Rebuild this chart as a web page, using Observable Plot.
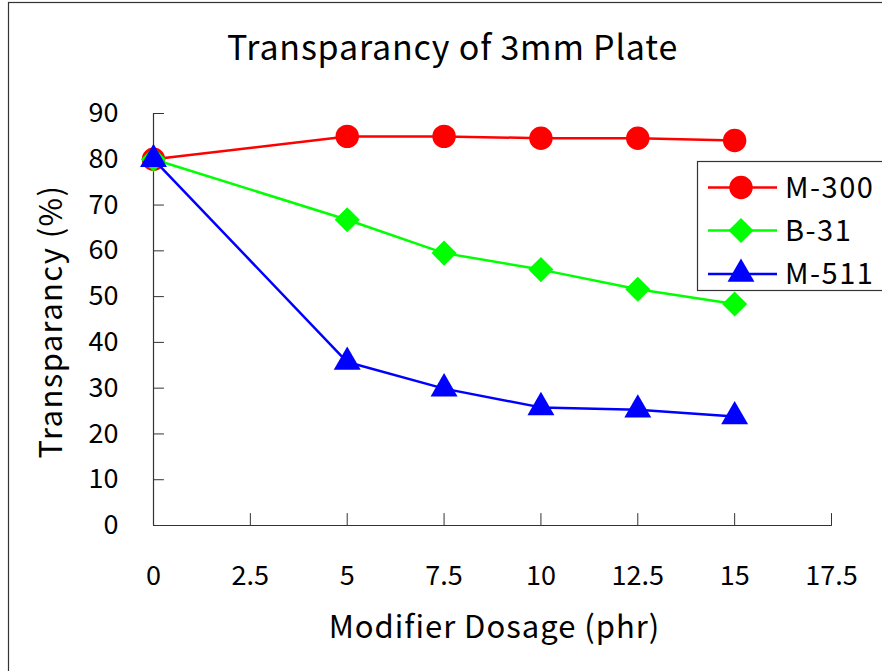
<!DOCTYPE html>
<html><head><meta charset="utf-8">
<script src="https://cdn.jsdelivr.net/npm/d3@7"></script>
<script src="https://cdn.jsdelivr.net/npm/@observablehq/plot@0.6"></script>
<style>body{margin:0;background:#fff}</style>
</head><body><div id="chart"></div>
<script>
const dosage = [0, 5, 7.5, 10, 12.5, 15];
const m300 = [80, 85.0, 85.0, 84.6, 84.6, 84.1];
const b31 = [80, 66.8, 59.5, 55.9, 51.6, 48.4];
const m511 = [80, 35.7, 29.9, 25.8, 25.3, 23.8];
const seriesNames = ["M-300", "B-31", "M-511"];
const seriesColors = ["#ff0000", "#00ff00", "#0000ff"];
const seriesSymbols = ["circle", "diamond2", "triangle"];
const seriesR = [11.7, 11.3, 10];
const xTicks = [0, 2.5, 5, 7.5, 10, 12.5, 15, 17.5];
const yTicks = [0, 10, 20, 30, 40, 50, 60, 70, 80, 90];
const titleText = "Transparancy of 3mm Plate";
const xLabel = "Modifier Dosage (phr)";
const yLabel = "Transparancy (%)";

const seriesValues = [m300, b31, m511];
const rows = seriesValues.map((vals, s) => dosage.map((x, i) => ({x, y: vals[i], s})));

const FONT = "'Noto Sans CJK JP', 'Noto Sans', sans-serif";
const axisColor = "#333";

const tickShape = {draw(ctx, l) { ctx.moveTo(0, 0); ctx.lineTo(0, -l); }};

const seriesMarks = rows.flatMap((data, s) => [
  Plot.line(data, {x: "x", y: "y", stroke: seriesColors[s], strokeWidth: 2.5}),
  Plot.dot(data, {x: "x", y: "y", symbol: seriesSymbols[s], r: seriesR[s], fill: seriesColors[s], stroke: "none"})
]);

const plot = Plot.plot({
  width: 882,
  height: 671,
  marginLeft: 153,
  marginRight: 51,
  marginTop: 113,
  marginBottom: 146,
  style: {fontFamily: FONT, fontSize: "27px", color: "#000", background: "#fff"},
  x: {domain: [0, 17.5]},
  y: {domain: [0, 90]},
  marks: [
    Plot.axisY({ticks: yTicks, tickSize: 0, tickPadding: 35, fontSize: 27, tickFormat: d => String(d), label: null}),
    Plot.axisX({ticks: xTicks, tickSize: 0, tickPadding: 40, fontSize: 27, tickFormat: d => String(d), label: null}),
    Plot.vector(yTicks.filter(d => d > 0), {x: () => 0, y: d => d, length: 10, rotate: 90, anchor: "start", shape: tickShape, stroke: axisColor, strokeWidth: 1}),
    Plot.vector(xTicks.filter(d => d > 0), {x: d => d, y: () => 0, length: 12, rotate: 0, anchor: "start", shape: tickShape, stroke: axisColor, strokeWidth: 1}),
    Plot.ruleX([0], {stroke: axisColor, strokeWidth: 1.2}),
    Plot.ruleY([0], {stroke: axisColor, strokeWidth: 1.2}),
    ...seriesMarks,
    Plot.text([titleText], {frameAnchor: "top", dx: -40, dy: -78, fontSize: 34, fill: "#000", className: "ttl"}),
    Plot.text([xLabel], {frameAnchor: "bottom", dx: 2, dy: 112, fontSize: 31, fill: "#000", className: "xl"}),
    Plot.text([yLabel], {frameAnchor: "left", textAnchor: "middle", lineAnchor: "middle", dx: -101, dy: 2, rotate: -90, fontSize: 31, fill: "#000", className: "yl"})
  ]
});

const svg = d3.select(plot);
svg.selectAll(".ttl text").style("letter-spacing", "0.8px");
svg.selectAll(".xl text").style("letter-spacing", "1px");
svg.selectAll(".yl text").style("letter-spacing", "1.4px");

svg.append("rect").attr("x", 8.5).attr("y", 2.5).attr("width", 900).attr("height", 700)
  .attr("fill", "none").attr("stroke", "#333").attr("stroke-width", 1.2);

const lg = svg.append("g");
lg.append("rect").attr("x", 697.5).attr("y", 161.5).attr("width", 200).attr("height", 129)
  .attr("fill", "#fff").attr("stroke", "#333").attr("stroke-width", 1.2);
const rowY = [187.5, 230.5, 274];
seriesNames.forEach((name, s) => {
  const g = lg.append("g");
  g.append("line").attr("x1", 708).attr("x2", 777).attr("y1", rowY[s]).attr("y2", rowY[s])
    .attr("stroke", seriesColors[s]).attr("stroke-width", 2.5);
  const sym = {circle: d3.symbolCircle, diamond2: d3.symbolDiamond2, triangle: d3.symbolTriangle}[seriesSymbols[s]];
  g.append("path").attr("d", d3.symbol(sym, Math.PI * seriesR[s] * seriesR[s])())
    .attr("transform", `translate(741,${rowY[s]})`).attr("fill", seriesColors[s]);
  g.append("text").attr("x", 785).attr("y", rowY[s]).attr("dy", "0.35em")
    .attr("text-anchor", "start").style("letter-spacing", "1.5px")
    .attr("font-size", 29).attr("font-family", FONT).attr("fill", "#000").text(name);
});

document.getElementById("chart").appendChild(plot);
</script>
</body></html>
